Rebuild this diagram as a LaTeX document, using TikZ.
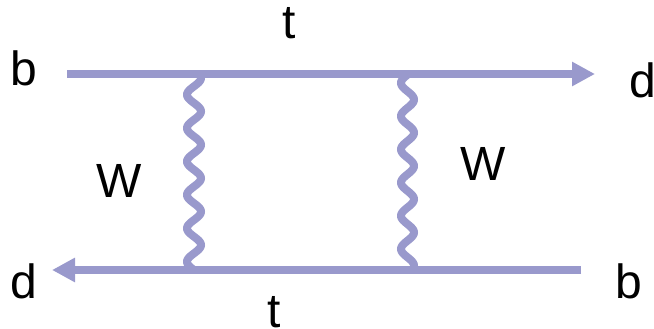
\documentclass[tikz,border=0pt]{standalone}
\usepackage{fontspec}
\setmainfont{Liberation Sans}
\usetikzlibrary{arrows.meta}
\definecolor{prop}{RGB}{153,153,204}
\begin{document}
\begin{tikzpicture}[x=1pt,y=-1pt,
  fermion/.style={draw=prop,line width=7.5pt},
  fermionarrow/.style={fermion,-{Triangle[length=23pt,width=23pt,fill=prop]}},
  boson/.style={draw=prop,line width=8pt,line cap=round},
  label/.style={anchor=base,inner sep=0pt,font=\fontsize{48}{56}\selectfont}]
\useasboundingbox (0,0) rectangle (654,329);
% free ends of the fermion lines
\coordinate (inL) at (67,74);
\coordinate (outR) at (595,74);
\coordinate (inR) at (581,270);
\coordinate (outL) at (52,270);
% W propagators between the two fermion lines
\draw[boson]
  plot[domain=0:196,samples=300,smooth] ({194+7*cos((\x-4)*10.778)},{74+\x});
\draw[boson]
  plot[domain=0:196,samples=300,smooth] ({407.5-6.5*cos((\x-9)*10.843)},{74+\x});
% fermion lines
\draw[fermionarrow] (inL) -- (outR);
\draw[fermionarrow] (inR) -- (outL);
% labels
\node[label] (lb1) at (24,85) {b};
\node[label] (lt1) at (289,39) {t};
\node[label] (ld1) at (642.5,98) {d};
\node[label] (lw1) at (119.5,197) {W};
\node[label] (lw2) at (483.5,180) {W};
\node[label] (ld2) at (23.5,298) {d};
\node[label] (lb2) at (628.5,298) {b};
\node[label] (lt2) at (274.5,327) {t};
\end{tikzpicture}
\end{document}
